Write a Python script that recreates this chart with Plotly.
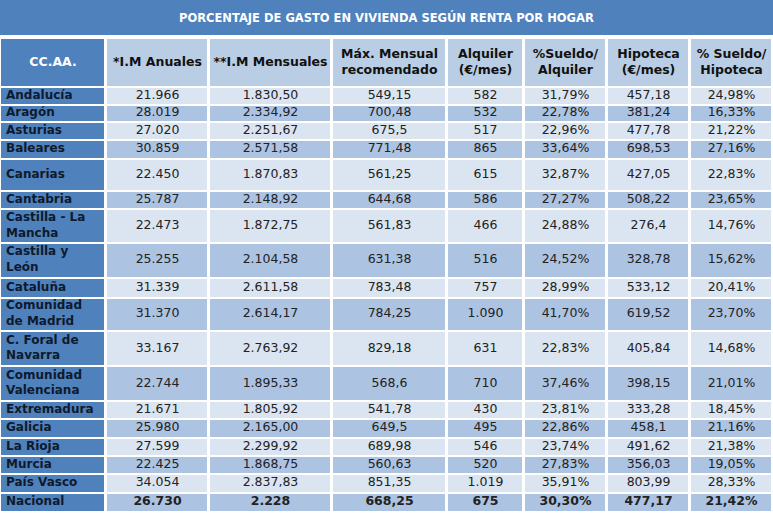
import plotly.graph_objects as go

# ---------------- data ----------------
TITLE = "PORCENTAJE DE GASTO EN VIVIENDA SEGÚN RENTA POR HOGAR"
HEADERS = ["CC.AA.", "*I.M Anuales", "**I.M Mensuales", "Máx. Mensual<br>recomendado",
           "Alquiler<br>(€/mes)", "%Sueldo/<br>Alquiler", "Hipoteca<br>(€/mes)", "% Sueldo/<br>Hipoteca"]

regions = ["Andalucía", "Aragón", "Asturias", "Baleares", "Canarias", "Cantabria",
           "Castilla - La<br>Mancha", "Castilla y<br>León", "Cataluña", "Comunidad<br>de Madrid",
           "C. Foral de<br>Navarra", "Comunidad<br>Valenciana", "Extremadura", "Galicia",
           "La Rioja", "Murcia", "País Vasco"]
im_anuales = [21966, 28019, 27020, 30859, 22450, 25787, 22473, 25255, 31339, 31370,
              33167, 22744, 21671, 25980, 27599, 22425, 34054]
im_mensuales = [1830.50, 2334.92, 2251.67, 2571.58, 1870.83, 2148.92, 1872.75, 2104.58,
                2611.58, 2614.17, 2763.92, 1895.33, 1805.92, 2165.00, 2299.92, 1868.75, 2837.83]
max_mensual = [549.15, 700.48, 675.5, 771.48, 561.25, 644.68, 561.83, 631.38, 783.48, 784.25,
               829.18, 568.6, 541.78, 649.5, 689.98, 560.63, 851.35]
alquiler = [582, 532, 517, 865, 615, 586, 466, 516, 757, 1090, 631, 710, 430, 495, 546, 520, 1019]
pct_alquiler = [31.79, 22.78, 22.96, 33.64, 32.87, 27.27, 24.88, 24.52, 28.99, 41.70, 22.83,
                37.46, 23.81, 22.86, 23.74, 27.83, 35.91]
hipoteca = [457.18, 381.24, 477.78, 698.53, 427.05, 508.22, 276.4, 328.78, 533.12, 619.52,
            405.84, 398.15, 333.28, 458.1, 491.62, 356.03, 803.99]
pct_hipoteca = [24.98, 16.33, 21.22, 27.16, 22.83, 23.65, 14.76, 15.62, 20.41, 23.70, 14.68,
                21.01, 18.45, 21.16, 21.38, 19.05, 28.33]

nacional_label = "Nacional"
nacional = [26730, 2228, 668.25, 675, 30.30, 477.17, 21.42]

# ---------------- formatting ----------------
def es(s):
    return s.replace(",", "X").replace(".", ",").replace("X", ".")

def fmt(v, kind):
    if kind == "int":
        return es(f"{v:,.0f}")
    if kind == "2dp":
        return es(f"{v:,.2f}")
    if kind == "pct":
        return es(f"{v:,.2f}") + "%"
    s = f"{v:,.2f}".rstrip("0").rstrip(".")
    return es(s)

col_values = [im_anuales, im_mensuales, max_mensual, alquiler, pct_alquiler, hipoteca, pct_hipoteca]
col_kinds = ["int", "2dp", "auto", "int", "pct", "auto", "pct"]
nac_kinds = ["int", "int", "auto", "int", "pct", "auto", "pct"]

# ---------------- layout (sizes / styles) ----------------
W, H = 773, 513
TITLE_H = 35
COL_EDGES = [0, 106, 209, 332, 447, 524, 607, 690, 773]
TABLE_TOP = 38
ROW_HEIGHTS = [49, 17.5, 17.5, 18, 18.5, 32.5, 18, 34, 34.5, 20, 33.5, 35, 35,
               18, 18.5, 18.5, 18, 18.5, 19.5]

DARK = "#4f81bd"
HEAD = "#b9cde5"
LIGHT = "#dbe5f1"
MID = "#adc3e2"

row_edges = [TABLE_TOP]
for h in ROW_HEIGHTS:
    row_edges.append(row_edges[-1] + h)
row_mid = [(a + b) / 2 for a, b in zip(row_edges[:-1], row_edges[1:])]
col_mid = [(a + b) / 2 for a, b in zip(COL_EDGES[:-1], COL_EDGES[1:])]

n_rows = len(regions) + 1
z = [[0] + [1] * 7]
for i in range(n_rows):
    z.append([0] + [2 if i % 2 == 0 else 3] * 7)

fig = go.Figure()
fig.add_trace(go.Heatmap(
    x=COL_EDGES, y=row_edges, z=z, zmin=0, zmax=3,
    colorscale=[[0, DARK], [1 / 3, HEAD], [2 / 3, LIGHT], [1, MID]],
    xgap=3, ygap=2, showscale=False, hoverinfo="skip"))

# header text
fig.add_trace(go.Scatter(
    x=col_mid, y=[row_mid[0]] * 8, mode="text",
    text=[f"<b>{h}</b>" for h in HEADERS],
    textposition="middle center",
    textfont=dict(family="DejaVu Sans", size=12.5, color=["white"] + ["#111111"] * 7),
    hoverinfo="skip", showlegend=False))

# region labels
labels = regions + [nacional_label]
fig.add_trace(go.Scatter(
    x=[COL_EDGES[0] + 6] * n_rows, y=row_mid[1:], mode="text",
    text=[f"<b>{r}</b>" for r in labels], textposition="middle right",
    textfont=dict(family="DejaVu Sans", size=12, color="#0e1a2c"),
    hoverinfo="skip", showlegend=False))

# values
xs, ys, ts = [], [], []
for c, (vals, kind) in enumerate(zip(col_values, col_kinds)):
    for r, v in enumerate(vals):
        xs.append(col_mid[c + 1]); ys.append(row_mid[r + 1]); ts.append(fmt(v, kind))
    xs.append(col_mid[c + 1]); ys.append(row_mid[n_rows])
    ts.append(f"<b>{fmt(nacional[c], nac_kinds[c])}</b>")
fig.add_trace(go.Scatter(
    x=xs, y=ys, mode="text", text=ts, textposition="middle center",
    textfont=dict(family="DejaVu Sans", size=12.5, color="#222222"),
    hoverinfo="skip", showlegend=False))

fig.add_shape(type="rect", xref="paper", yref="paper", x0=0, x1=1, y0=1 - TITLE_H / H, y1=1,
              fillcolor=DARK, line_width=0, layer="below")
fig.add_annotation(xref="paper", yref="paper", x=0.5, y=1 - TITLE_H / 2 / H,
                   xanchor="center", yanchor="middle",
                   text=f"<b>{TITLE}</b>", showarrow=False,
                   font=dict(family="DejaVu Sans", size=11.5, color="white"))

fig.update_layout(
    width=W, height=H, margin=dict(l=0, r=0, t=0, b=0),
    paper_bgcolor="white", plot_bgcolor="white", showlegend=False,
    xaxis=dict(range=[0, W], visible=False, fixedrange=True),
    yaxis=dict(range=[H, 0], visible=False, fixedrange=True),
)
fig.write_html("out.html", config={"displayModeBar": False},
               post_script="document.body.style.margin='0';document.body.style.overflow='hidden';")
